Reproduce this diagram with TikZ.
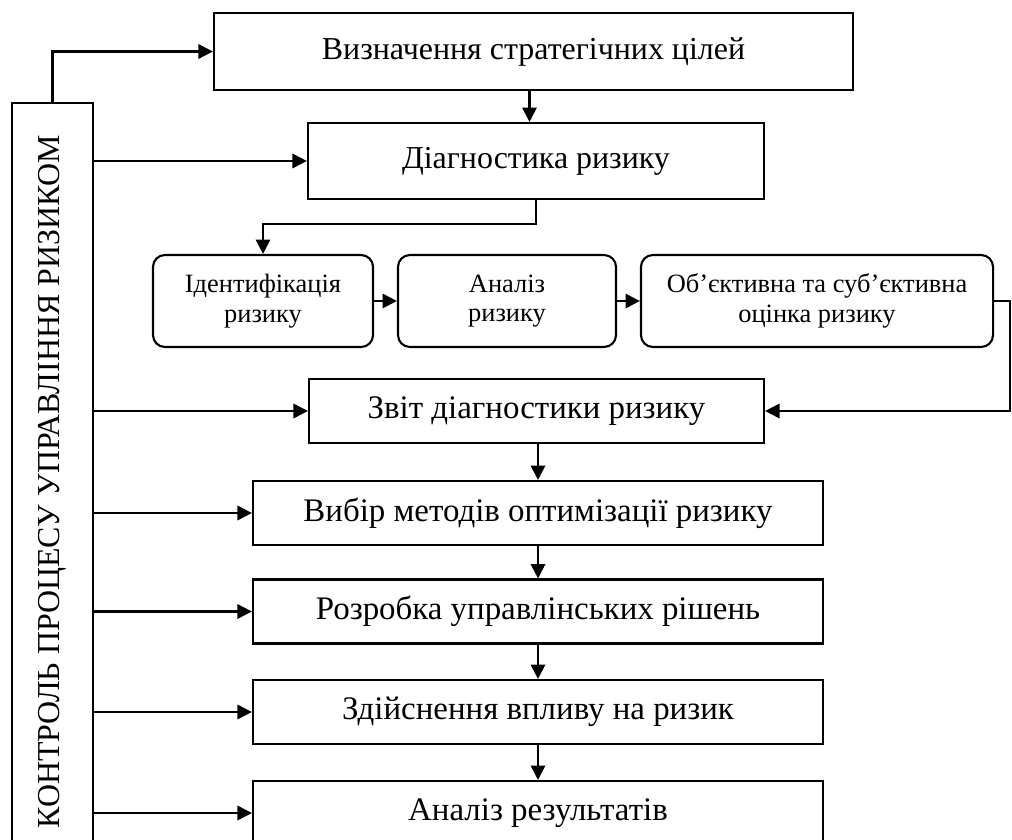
\documentclass[tikz,border=0pt]{standalone}
\usepackage{fontspec}
\setmainfont{Liberation Serif}
\usetikzlibrary{arrows.meta}

\tikzset{
  box/.style={draw,line width=1.5pt,inner sep=0pt,align=center,font=\fontsize{22.7}{27}\selectfont},
  stage/.style={box,minimum width=14.25cm,minimum height=1.6cm,font=\fontsize{23.4}{27}\selectfont},
  rbox/.style={box,rounded corners=3mm,minimum height=2.3cm,font=\fontsize{18.8}{21}\selectfont},
  arr/.style={line width=1.5pt,-{Triangle[length=3.6mm,width=3.6mm]}}
}

\begin{document}
\begin{tikzpicture}[x=0.025cm,y=-0.025cm]
\useasboundingbox (0,0) rectangle (1012,840);
\clip (0,0) rectangle (1012,840);
\node[box,minimum width=15.975cm,minimum height=1.925cm] (goal) at (533.5,51.5) {Визначення стратегічних цілей};
\node[box,minimum width=11.4cm,minimum height=1.9cm] (diag) at (536,161) {Діагностика ризику};
\node[rbox,minimum width=5.5cm] (ident) at (263,301) {Ідентифікація\\ризику};
\node[rbox,minimum width=5.45cm] (anal) at (507,301) {Аналіз\\ризику};
\node[rbox,minimum width=8.8cm] (obj) at (817,301) {Об’єктивна та суб’єктивна\\оцінка ризику};
\node[stage,minimum width=11.375cm] (report) at (536.5,411) {Звіт діагностики ризику};
\node[stage] (choose) at (538,513) {Вибір методів оптимізації ризику};
\node[stage] (devel) at (538,611.5) {Розробка управлінських рішень};
\node[stage] (impl) at (538,712) {Здійснення впливу на ризик};
\node[stage] (result) at (538,813) {Аналіз результатів};
\node[box,rotate=90,minimum width=18.925cm,minimum height=2.025cm] (control) at (52.5,481.5) {КОНТРОЛЬ ПРОЦЕСУ УПРАВЛІННЯ РИЗИКОМ};
\coordinate (edge) at (1010,0);

\draw[arr] (control.east) |- (goal.west);
\foreach \n in {diag,report,choose,devel,impl,result}
  \draw[arr] (control.south |- \n.west) -- (\n.west);
\draw[arr] ([xshift=-1mm]goal.south) -- ([xshift=-1mm]goal.south |- diag.north);
\draw[arr] (diag.south) -- ++(0,24) -| (ident.north);
\draw[arr] (ident) -- (anal);
\draw[arr] (anal) -- (obj);
\draw[arr] (obj.east) -- (obj.east -| edge) |- (report.east);
\draw[arr] (choose.north |- report.south) -- (choose.north);
\draw[arr] (choose) -- (devel);
\draw[arr] (devel) -- (impl);
\draw[arr] (impl) -- (result);
\end{tikzpicture}
\end{document}
